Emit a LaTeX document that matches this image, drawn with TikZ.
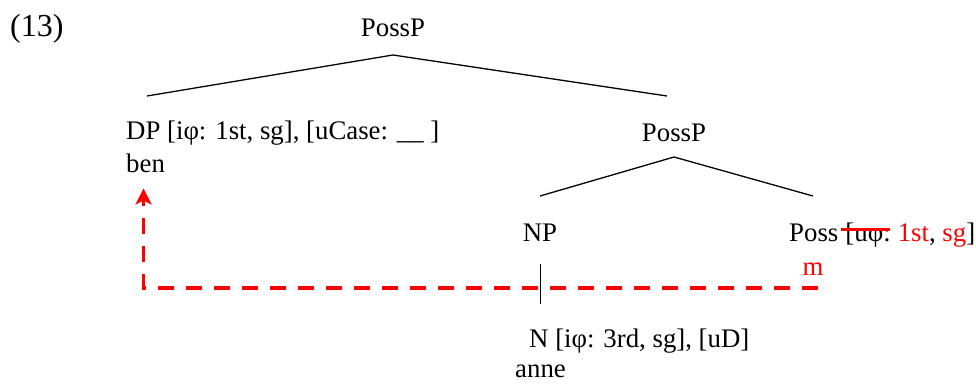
\documentclass[tikz,border=0pt]{standalone}
\usepackage{fontspec}
\setmainfont{Liberation Serif}
\usetikzlibrary{arrows.meta}
\definecolor{featred}{RGB}{255,0,0}
\begin{document}
\begin{tikzpicture}[x=1pt,y=-1pt,
  txt/.style={inner sep=0pt, anchor=base west, font=\fontsize{26.8}{32}\selectfont},
  ctxt/.style={txt, anchor=base},
  branch/.style={line width=1.3pt, black},
  agree/.style={featred, line width=3.5pt, dash pattern=on 16pt off 12pt},
  strike/.style={featred, line width=3pt}]
\useasboundingbox (0,0) rectangle (976,384);

% example number
\node[txt, font=\fontsize{32}{36}\selectfont] (num) at (10,36) {(13)};

% root
\node[ctxt] (root) at (393,36) {PossP};
\coordinate (rootapex) at (393,55);
\coordinate (rootL) at (147,96);
\coordinate (rootR) at (667,96);
\draw[branch] (rootL) -- (rootapex) -- (rootR);

% specifier
\node[txt] (dp) at (126,139) {DP [iφ: 1st, sg], [uCase: \_\_ ]};
\node[txt] (ben) at (126,172) {ben};

% intermediate PossP
\node[ctxt] (possp) at (674,141) {PossP};
\coordinate (posspapex) at (674,157);
\coordinate (posspL) at (540,196);
\coordinate (posspR) at (813,196);
\draw[branch] (posspL) -- (posspapex) -- (posspR);

% complement
\node[ctxt] (np) at (540,241) {NP};
\coordinate (npfoot) at (540,264);
\coordinate (nhead) at (540,304);
\draw[line width=1pt] (npfoot) -- (nhead);
\node[txt] (n) at (529,347) {N [iφ: 3rd, sg], [uD]};
\node[txt] (anne) at (515,377) {anne};

% head with valued features
\node[txt] (possA) at (789,241) {Poss};
\node[txt, anchor=base west] (possF) at (possA.base east) {\ [uφ:};
\node[txt, anchor=base west] (possV) at (possF.base east) {\ \textcolor{featred}{1st}, \textcolor{featred}{sg}]};
\draw[strike] ([xshift=2pt,yshift=12pt]possF.base west) -- ([xshift=-1pt,yshift=12pt]possF.base east);
\node[ctxt, text=featred] (m) at (813,275) {m};

% agreement path
\coordinate (mfoot) at (818,288);
\draw[agree, -{Stealth[length=16pt,width=16pt,inset=4pt]}]
  (mfoot) -| ([xshift=-2pt,yshift=-16pt]ben.south);
\end{tikzpicture}
\end{document}
